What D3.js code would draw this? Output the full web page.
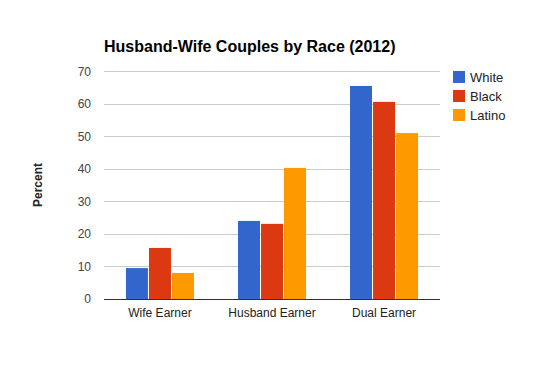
<!DOCTYPE html>
<html>
<head>
<meta charset="utf-8">
<script src="https://cdn.jsdelivr.net/npm/d3@7"></script>
<style>
body { margin: 0; background: #fff; }
svg { font-family: Arial, "Liberation Sans", sans-serif; }
</style>
</head>
<body>
<svg width="545" height="371"></svg>
<script>
var categories = ['Wife Earner', 'Husband Earner', 'Dual Earner'];
var series = ['White', 'Black', 'Latino'];
var white = [9.5, 24.0, 65.5];
var black = [15.7, 23.1, 60.6];
var latino = [8.0, 40.3, 51.0];
var yTicks = [0, 10, 20, 30, 40, 50, 60, 70];
var colors = ['#3366cc', '#dc3912', '#ff9900'];

var values = [white, black, latino];

var svg = d3.select('svg');

var xScale = d3.scaleBand()
    .domain(categories)
    .range([104, 440])
    .paddingInner(0.393)
    .paddingOuter(0.196);

var xInner = d3.scaleBand()
    .domain(series)
    .range([0, xScale.bandwidth()])
    .paddingInner(0.044);

var yScale = d3.scaleLinear()
    .domain([0, 70])
    .range([299, 71.3]);

var color = d3.scaleOrdinal()
    .domain(series)
    .range(colors);

// gridlines
svg.append('g')
    .attr('class', 'grid')
    .selectAll('line')
    .data(yTicks.slice(1))
    .enter()
    .append('line')
    .attr('x1', 104)
    .attr('x2', 440)
    .attr('y1', function(d){ return Math.round(yScale(d)) + 0.5; })
    .attr('y2', function(d){ return Math.round(yScale(d)) + 0.5; })
    .style('stroke', '#cccccc')
    .style('stroke-width', 1);

// bars
var groups = svg.selectAll('g.group')
    .data(categories)
    .enter()
    .append('g')
    .attr('class', 'group')
    .attr('transform', function(d){ return 'translate(' + xScale(d) + ',0)'; });

groups.selectAll('rect')
    .data(function(d, i){
        return series.map(function(s, j){ return { series: s, value: values[j][i] }; });
    })
    .enter()
    .append('rect')
    .attr('x', function(d){ return xInner(d.series); })
    .attr('width', xInner.bandwidth())
    .attr('y', function(d){ return yScale(d.value); })
    .attr('height', function(d){ return yScale(0) - yScale(d.value); })
    .style('fill', function(d){ return color(d.series); });

// y axis labels
var yAxis = d3.axisLeft(yScale).tickValues(yTicks).tickSize(0).tickPadding(13);
svg.append('g')
    .attr('class', 'y axis')
    .attr('transform', 'translate(104,0)')
    .call(yAxis)
    .call(function(g){ g.select('.domain').remove(); })
    .selectAll('text')
    .style('font-size', '12px')
    .style('fill', '#444')
    .style('font-family', 'Arial, "Liberation Sans", sans-serif');

// x axis
var xAxis = d3.axisBottom(xScale).tickSize(0).tickPadding(9);
svg.append('g')
    .attr('class', 'x axis')
    .attr('transform', 'translate(0,299)')
    .call(xAxis)
    .call(function(g){
        g.select('.domain').remove();
    })
    .selectAll('text')
    .style('font-size', '12px')
    .style('fill', '#222')
    .style('font-family', 'Arial, "Liberation Sans", sans-serif');

svg.append('line')
    .attr('x1', 104)
    .attr('x2', 440)
    .attr('y1', 299.5)
    .attr('y2', 299.5)
    .style('stroke', '#333')
    .style('stroke-width', 1);

// title
svg.append('text')
    .attr('x', 104)
    .attr('y', 52)
    .style('font-size', '16px')
    .style('font-weight', 'bold')
    .style('fill', '#000')
    .text('Husband-Wife Couples by Race (2012)');

// y label
svg.append('text')
    .attr('transform', 'translate(42,185)rotate(270)')
    .attr('text-anchor', 'middle')
    .style('font-size', '12px')
    .style('font-weight', 'bold')
    .style('fill', '#222')
    .text('Percent');

// legend
var legend = svg.selectAll('g.legend')
    .data(series)
    .enter()
    .append('g')
    .attr('class', 'legend')
    .attr('transform', function(d, i){ return 'translate(453,' + (71 + i * 19) + ')'; });

legend.append('rect')
    .attr('width', 12)
    .attr('height', 12)
    .style('fill', function(d){ return color(d); });

legend.append('text')
    .attr('x', 17)
    .attr('y', 10.5)
    .style('font-size', '13px')
    .style('fill', '#222')
    .text(function(d){ return d; });
</script>
</body>
</html>
